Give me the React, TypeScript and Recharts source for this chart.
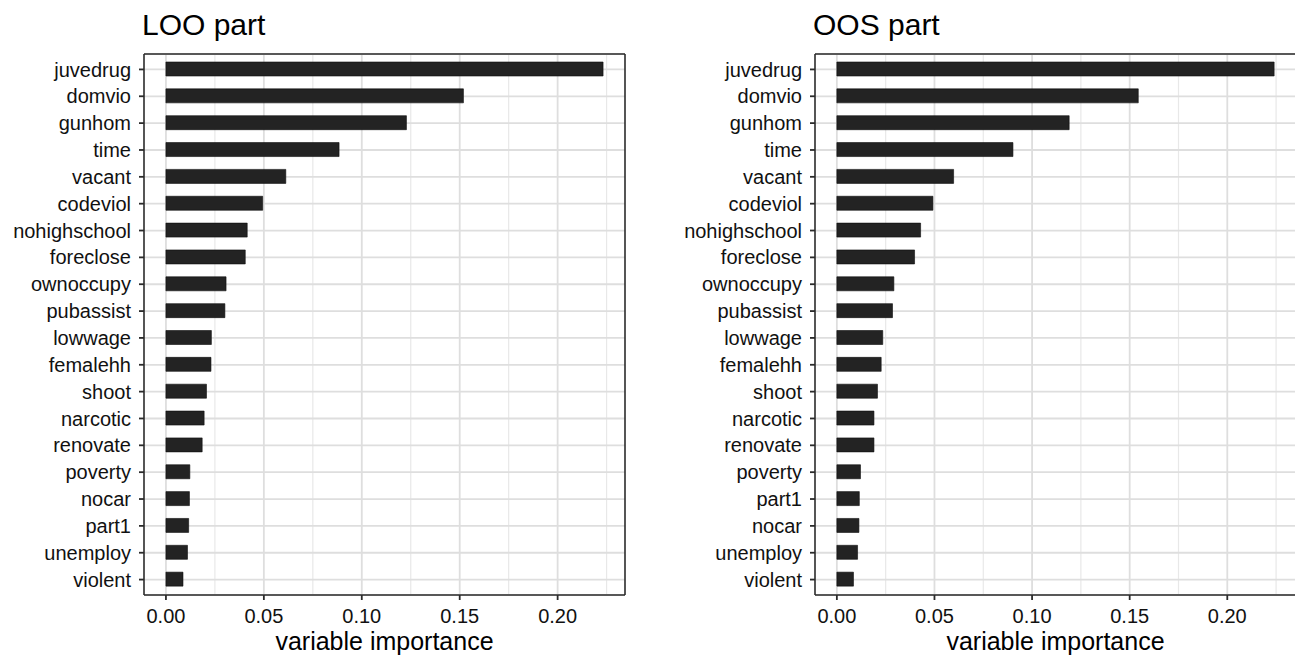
import { BarChart, Bar, XAxis, YAxis, CartesianGrid } from 'recharts'

const looNames = [
  'juvedrug', 'domvio', 'gunhom', 'time', 'vacant', 'codeviol', 'nohighschool',
  'foreclose', 'ownoccupy', 'pubassist', 'lowwage', 'femalehh', 'shoot',
  'narcotic', 'renovate', 'poverty', 'nocar', 'part1', 'unemploy', 'violent',
]
const looValues = [
  0.2232, 0.1519, 0.1228, 0.0884, 0.0612, 0.0494, 0.0415, 0.0405, 0.0307, 0.0301,
  0.0232, 0.023, 0.0207, 0.0195, 0.0185, 0.0122, 0.012, 0.0116, 0.011, 0.0087,
]

const oosNames = [
  'juvedrug', 'domvio', 'gunhom', 'time', 'vacant', 'codeviol', 'nohighschool',
  'foreclose', 'ownoccupy', 'pubassist', 'lowwage', 'femalehh', 'shoot',
  'narcotic', 'renovate', 'poverty', 'part1', 'nocar', 'unemploy', 'violent',
]
const oosValues = [
  0.224, 0.1544, 0.119, 0.0902, 0.0598, 0.0492, 0.0429, 0.0398, 0.0292, 0.0285,
  0.0235, 0.0227, 0.0208, 0.019, 0.019, 0.0121, 0.0115, 0.0113, 0.0106, 0.0085,
]

const majorTicks = [0, 0.05, 0.1, 0.15, 0.2]
const minorTicks = [0.025, 0.075, 0.125, 0.175, 0.225]

const font = "'Liberation Sans', Arial, Helvetica, sans-serif"
const ink = '#2b2b2b'

interface PanelProps {
  title: string
  names: string[]
  values: number[]
  domain: [number, number]
  left: number
}

function ImportancePanel({ title, names, values, domain, left }: PanelProps) {
  const data = names.map((name, i) => ({ name, value: values[i] }))
  return (
    <div style={{ position: 'absolute', left, top: 0, width: 640, height: 658 }}>
      <div
        style={{
          position: 'absolute',
          left: 142,
          top: 8,
          fontSize: 30,
          fontFamily: font,
          color: '#000',
          lineHeight: 'normal',
          whiteSpace: 'nowrap',
        }}
      >
        {title}
      </div>
      <BarChart
        width={640}
        height={658}
        data={data}
        layout="vertical"
        margin={{ top: 53, right: 14, bottom: 0, left: 0 }}
      >
        <CartesianGrid horizontal={false} verticalValues={minorTicks} stroke="#e8e8e8" strokeWidth={1.2} />
        <CartesianGrid verticalValues={majorTicks} stroke="#dedede" strokeWidth={1.8} />
        <XAxis
          type="number"
          domain={domain}
          allowDataOverflow
          ticks={majorTicks}
          interval={0}
          tickFormatter={(v: number) => v.toFixed(2)}
          height={63}
          tickSize={5}
          tickMargin={9}
          axisLine={{ stroke: ink, strokeWidth: 1.6 }}
          tickLine={{ stroke: ink, strokeWidth: 1.8 }}
          tick={{ fill: '#111', fontSize: 20, fontFamily: font }}
          label={{
            value: 'variable importance',
            position: 'insideBottom',
            offset: 8,
            fill: '#000',
            fontSize: 25,
            fontFamily: font,
          }}
        />
        {/* top and right axes only draw the panel frame */}
        <XAxis
          xAxisId="top"
          orientation="top"
          type="number"
          domain={domain}
          allowDataOverflow
          height={1}
          tick={false}
          tickLine={false}
          axisLine={{ stroke: ink, strokeWidth: 1.6 }}
        />
        <YAxis
          type="category"
          dataKey="name"
          width={144}
          interval={0}
          padding={{ top: 2, bottom: 2 }}
          tickSize={5}
          tickMargin={8}
          axisLine={{ stroke: ink, strokeWidth: 1.6 }}
          tickLine={{ stroke: ink, strokeWidth: 1.8 }}
          tick={{ fill: '#111', fontSize: 20, fontFamily: font }}
        />
        <YAxis
          yAxisId="right"
          orientation="right"
          type="category"
          dataKey="name"
          width={1}
          interval={0}
          padding={{ top: 2, bottom: 2 }}
          tick={false}
          tickLine={false}
          axisLine={{ stroke: ink, strokeWidth: 1.6 }}
        />
        <Bar
          dataKey="value"
          xAxisId="top"
          yAxisId="right"
          fill="transparent"
          barSize={14}
          isAnimationActive={false}
        />
        <Bar
          dataKey="value"
          fill="#232323"
          stroke="#0d0d0d"
          strokeWidth={0.6}
          barSize={14}
          isAnimationActive={false}
        />
      </BarChart>
    </div>
  )
}

export default function App() {
  return (
    <div
      style={{
        position: 'absolute',
        left: 0,
        top: 0,
        width: 1295,
        height: 658,
        overflow: 'hidden',
        background: '#fff',
      }}
    >
      <ImportancePanel title="LOO part" names={looNames} values={looValues} domain={[-0.0112, 0.2344]} left={0} />
      <ImportancePanel title="OOS part" names={oosNames} values={oosValues} domain={[-0.0112, 0.2352]} left={671} />
    </div>
  )
}
